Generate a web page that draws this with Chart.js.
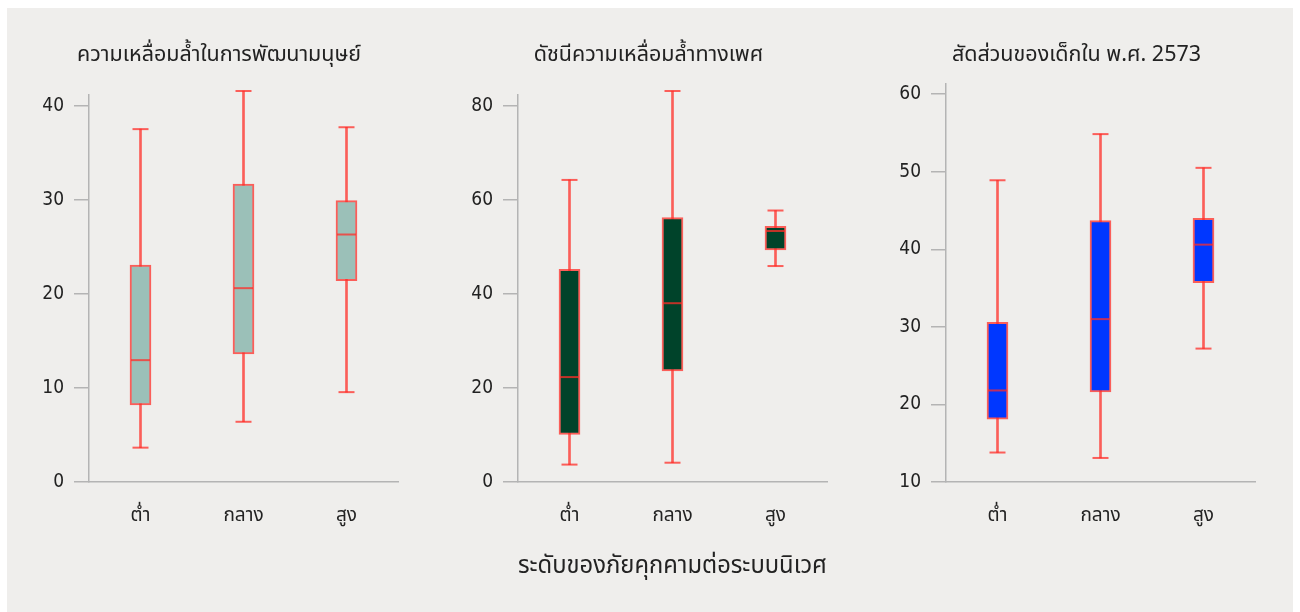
<!DOCTYPE html>
<html lang="th">
<head>
<meta charset="utf-8">
<script src="https://cdn.jsdelivr.net/npm/chart.js@4.4.1/dist/chart.umd.min.js"></script>
<style>
  html, body { margin: 0; padding: 0; background: #ffffff; }
  #wrap { position: relative; width: 1300px; height: 612px; overflow: hidden; }
  #panel { position: absolute; left: 7px; top: 8px; width: 1286px; height: 604px; background: #efeeec; }
  canvas { position: absolute; top: 0; }
</style>
</head>
<body>
<div id="wrap">
  <div id="panel"></div>
  <canvas id="c1" width="362" height="612" style="left:40px"></canvas>
  <canvas id="c2" width="361" height="612" style="left:470px"></canvas>
  <canvas id="c3" width="361" height="612" style="left:898px"></canvas>
</div>
<script>
// Threat level categories shared by the three panels
const categories = ['ต่ำ', 'กลาง', 'สูง'];

// Human development inequality
const hdiLow    = [3.65, 6.4, 9.55];
const hdiQ1     = [8.2, 13.6, 21.4];
const hdiMedian = [12.95, 20.6, 26.3];
const hdiQ3     = [23.05, 31.65, 29.9];
const hdiHigh   = [37.5, 41.55, 37.7];
const hdiTicks  = [0, 10, 20, 30, 40];

// Gender inequality index
const giiLow    = [3.7, 4.1, 45.9];
const giiQ1     = [10.1, 23.6, 49.3];
const giiMedian = [22.3, 38.0, 53.35];
const giiQ3     = [45.2, 56.2, 54.35];
const giiHigh   = [64.2, 83.1, 57.7];
const giiTicks  = [0, 20, 40, 60, 80];

// Share of children in 2573 B.E.
const kidLow    = [13.8, 13.1, 27.2];
const kidQ1     = [18.1, 21.6, 35.7];
const kidMedian = [21.8, 31.0, 40.6];
const kidQ3     = [30.6, 43.7, 44.0];
const kidHigh   = [48.9, 54.85, 50.5];
const kidTicks  = [10, 20, 30, 40, 50, 60];

const titles = [
  'ความเหลื่อมล้ำในการพัฒนามนุษย์',
  'ดัชนีความเหลื่อมล้ำทางเพศ',
  'สัดส่วนของเด็กใน พ.ศ. 2573'
];
const xAxisTitle = 'ระดับของภัยคุกคามต่อระบบนิเวศ';

const thaiFont = "'Noto Sans Thai', 'Noto Sans Thai UI', 'Leelawadee UI', Tahoma, 'Noto Sans', sans-serif";
const numFont = "'Liberation Sans Narrow', 'DejaVu Sans Condensed', 'Liberation Sans', sans-serif";

const RED = 'rgba(255,45,40,0.75)';
const AXIS = '#b4b4b4';

function pairs(a, b) { return a.map((v, i) => [v, b[i]]); }

function boxChart(id, cfg) {
  const ds = [
    { // whisker stem
      type: 'bar', data: pairs(cfg.low, cfg.high), backgroundColor: RED,
      borderWidth: 0, barThickness: 2, grouped: false, order: 3, clip: false
    },
    { // interquartile box
      type: 'bar', data: pairs(cfg.q1, cfg.q3), backgroundColor: cfg.fill,
      borderColor: RED, borderWidth: 2, borderSkipped: false,
      barThickness: 21, grouped: false, order: 2, clip: false
    },
    { // whisker caps (lower)
      type: 'line', data: cfg.low, showLine: false, pointStyle: 'line',
      pointRadius: 8, pointBorderWidth: 2, pointBorderColor: RED, order: 1, clip: false
    },
    { // whisker caps (upper)
      type: 'line', data: cfg.high, showLine: false, pointStyle: 'line',
      pointRadius: 8, pointBorderWidth: 2, pointBorderColor: RED, order: 1, clip: false
    },
    { // medians
      type: 'line', data: cfg.median, showLine: false, pointStyle: 'line',
      pointRadius: 9.5, pointBorderWidth: 2, pointBorderColor: RED, order: 0, clip: false
    }
  ];
  return new Chart(document.getElementById(id), {
    type: 'bar',
    data: { labels: categories, datasets: ds },
    options: {
      responsive: false,
      animation: false,
      events: [],
      layout: { autoPadding: false, padding: { top: 0, right: 4, bottom: cfg.padBottom, left: 0 } },
      plugins: {
        legend: { display: false },
        tooltip: { enabled: false },
        title: {
          display: true, text: cfg.title, color: '#222',
          font: { family: thaiFont, size: 21.5, weight: 'normal' },
          padding: { top: 44, bottom: cfg.titleGap }
        }
      },
      scales: {
        x: {
          offset: true,
          grid: { display: false },
          border: { display: true, color: AXIS, width: 1.5 },
          ticks: { color: '#222', padding: cfg.xPad, font: { family: thaiFont, size: 19 } },
          title: cfg.xTitle ? {
            display: true, text: cfg.xTitle, color: '#222',
            font: { family: thaiFont, size: 24 }, padding: 0
          } : { display: false },
          afterFit: s => { s.height = cfg.xHeight; }
        },
        y: {
          min: cfg.min, max: cfg.max,
          ticks: {
            color: '#222', padding: 10,
            font: { family: numFont, size: 19 }
          },
          afterBuildTicks: s => { s.ticks = cfg.ticks.map(v => ({ value: v })); },
          grid: { drawOnChartArea: false, drawTicks: true, tickLength: 15, color: AXIS, lineWidth: 1.5 },
          border: { display: true, color: AXIS, width: 1.5 },
          afterFit: s => { s.width = cfg.yWidth; }
        }
      }
    }
  });
}

const xHeight = 100.4;
const padBottom = 29.6;

boxChart('c1', {
  title: titles[0], fill: '#9bc0b8',
  low: hdiLow, q1: hdiQ1, median: hdiMedian, q3: hdiQ3, high: hdiHigh,
  min: 0, max: 41.2, ticks: hdiTicks, yWidth: 49, titleGap: 24.5,
  xHeight, padBottom, xPad: 16
});
boxChart('c2', {
  title: titles[1], fill: '#00432a',
  low: giiLow, q1: giiQ1, median: giiMedian, q3: giiQ3, high: giiHigh,
  min: 0, max: 82.4, ticks: giiTicks, yWidth: 48, titleGap: 24.5,
  xHeight, padBottom, xPad: 16, xTitle: xAxisTitle
});
boxChart('c3', {
  title: titles[2], fill: '#0037ff',
  low: kidLow, q1: kidQ1, median: kidMedian, q3: kidQ3, high: kidHigh,
  min: 10, max: 61.4, ticks: kidTicks, yWidth: 48, titleGap: 13.5,
  xHeight, padBottom, xPad: 16
});
</script>
</body>
</html>
